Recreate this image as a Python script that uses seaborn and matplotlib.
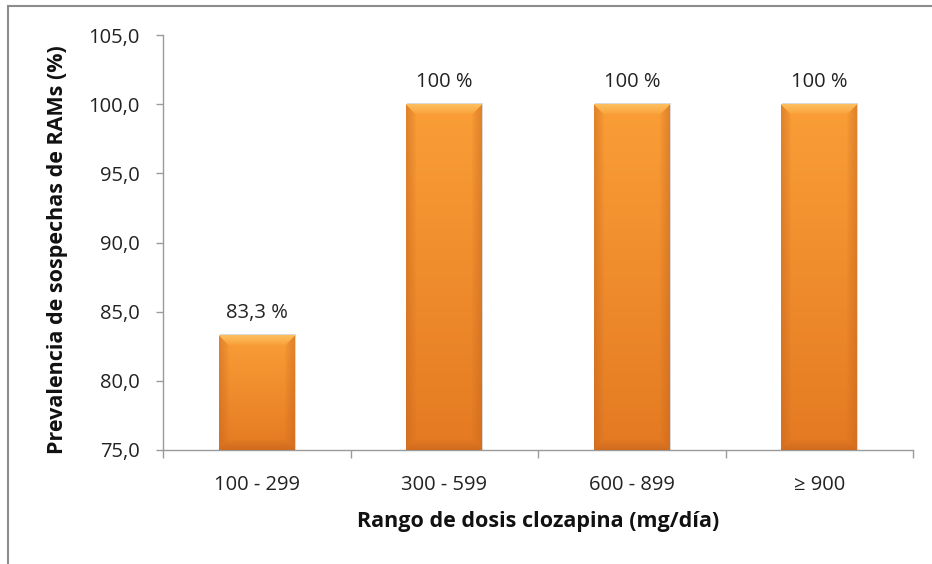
import numpy as np
import pandas as pd
import matplotlib
matplotlib.use("Agg")
import matplotlib.pyplot as plt
import seaborn as sns
from matplotlib.patches import Rectangle
from matplotlib.ticker import FuncFormatter, FixedLocator

categories = ["100 - 299", "300 - 599", "600 - 899", "\u2265 900"]
prevalence = [83.3, 100.0, 100.0, 100.0]
bar_labels = ["83,3 %", "100 %", "100 %", "100 %"]
y_ticks = [75, 80, 85, 90, 95, 100, 105]

sns.set_theme(style="white")
plt.rcParams["font.family"] = ["Open Sans", "DejaVu Sans"]

df = pd.DataFrame({"rango": categories, "prev": prevalence})

fig = plt.figure(figsize=(9.32, 5.64), dpi=100)
ax = fig.add_axes([163 / 932, 1 - 450 / 564, 750 / 932, 415 / 564])

sns.barplot(data=df, x="rango", y="prev", color="#F7932F", width=0.405,
            saturation=1, ax=ax, zorder=2)

ax.set_xlim(-0.5, 3.5)
ax.set_ylim(75, 105)

# Bevelled orange fill painted over each bar
fig.canvas.draw()
base_top = np.array([250, 158, 55]) / 255
base_bot = np.array([228, 122, 34]) / 255
light = np.array([253, 196, 100]) / 255
dark = np.array([196, 98, 28]) / 255
for patch in ax.patches:
    x0 = patch.get_x()
    w = patch.get_width()
    top = patch.get_y() + patch.get_height()
    bot = max(patch.get_y(), 75)
    p0 = ax.transData.transform((x0, bot))
    p1 = ax.transData.transform((x0 + w, top))
    W = max(int(round(p1[0] - p0[0])), 4)
    H = max(int(round(p1[1] - p0[1])), 4)
    yy, xx = np.mgrid[0:H, 0:W]
    t = yy / max(H - 1, 1)
    img = base_top[None, None, :] * (1 - t[..., None]) + base_bot[None, None, :] * t[..., None]
    b = 10.0
    d_top = yy
    d_bot = H - 1 - yy
    d_l = xx
    d_r = W - 1 - xx
    dmin = np.minimum.reduce([d_top, d_bot, d_l, d_r])
    band = np.clip(1 - dmin / b, 0, 1) ** 0.8
    is_top = d_top <= np.minimum.reduce([d_bot, d_l, d_r])
    is_bot = d_bot <= np.minimum.reduce([d_top, d_l, d_r])
    mix_top = (band * is_top * 0.85)[..., None]
    mix_side = (band * (~is_top) * (~is_bot) * 0.45)[..., None]
    mix_bot = (band * is_bot * 0.6)[..., None]
    img = img * (1 - mix_top) + light * mix_top
    img = img * (1 - mix_side) + dark * mix_side
    img = img * (1 - mix_bot) + dark * mix_bot
    patch.set_edgecolor("none")
    # soft drop shadow behind the bar
    ax.add_patch(Rectangle((x0 + 0.005, bot), w, top - bot + 0.05,
                           facecolor="#000000", alpha=0.15,
                           edgecolor="none", zorder=1.5))
    ax.imshow(img, extent=(x0, x0 + w, bot, top), aspect="auto",
              interpolation="bilinear", zorder=3, origin="upper")

for patch, lab in zip(ax.patches[: len(categories)], bar_labels):
    cx = patch.get_x() + patch.get_width() / 2
    ax.text(cx, patch.get_y() + patch.get_height() + 1.25, lab, ha="center",
            va="baseline", fontsize=14.5, color="#222222", zorder=4)

ax.set_xlim(-0.5, 3.5)
ax.set_ylim(75, 105)

ax.yaxis.set_major_locator(FixedLocator(y_ticks))
ax.yaxis.set_major_formatter(FuncFormatter(lambda v, p: f"{v:.1f}".replace(".", ",")))
ax.set_xticks(range(len(categories)))
ax.set_xticklabels(categories)
ax.set_xticks([-0.5, 0.5, 1.5, 2.5, 3.5], minor=True)

for side in ["top", "right"]:
    ax.spines[side].set_visible(False)
for side in ["left", "bottom"]:
    ax.spines[side].set_color("#9a9a9a")
    ax.spines[side].set_linewidth(1.0)

ax.tick_params(axis="y", which="major", left=True, length=5, width=1,
               color="#9a9a9a", labelsize=14.5, labelcolor="#222222", pad=12)
ax.tick_params(axis="x", which="major", bottom=False, length=0,
               labelsize=14.5, labelcolor="#222222", pad=18)
ax.tick_params(axis="x", which="minor", bottom=True, length=6, width=1,
               color="#9a9a9a")

ax.set_xlabel("Rango de dosis clozapina (mg/d\u00eda)", fontsize=15.5,
              fontweight="bold", color="#111111")
ax.set_ylabel("Prevalencia de sospechas de RAMs (%)", fontsize=15.5,
              fontweight="bold", color="#111111")
ax.xaxis.set_label_coords(0.5, (450 - 511) / 415)
ax.yaxis.set_label_coords((68 - 163) / 750, 0.482)
ax.grid(False)

# chart area frame
fig.add_artist(Rectangle((8 / 932, -0.05), 1.1, 1 - 6 / 564 + 0.05,
                         transform=fig.transFigure, facecolor="none",
                         edgecolor="#8c8c8c", linewidth=1.5))

fig.savefig("out.png", dpi=100)
